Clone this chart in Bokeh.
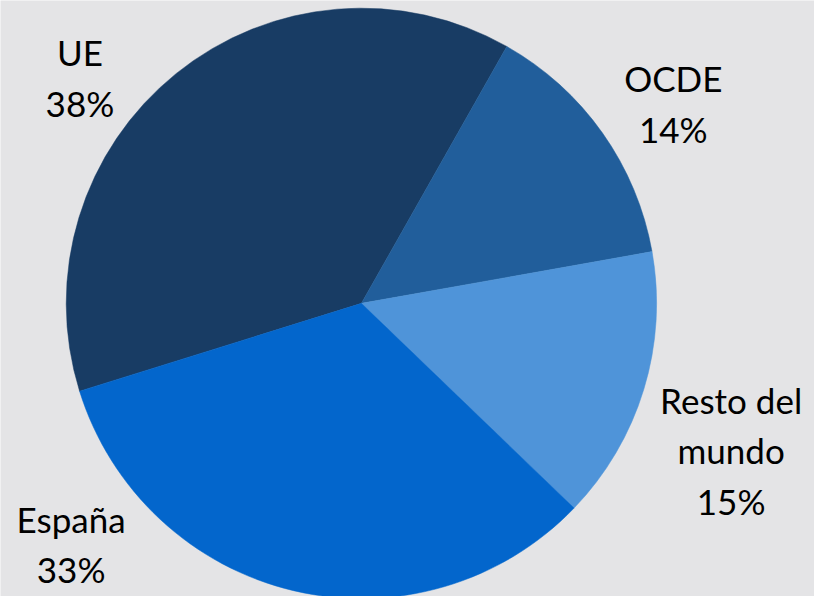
import math
from bokeh.plotting import figure
from bokeh.models import Range1d, ColumnDataSource
from bokeh.core.properties import value
from bokeh.embed import file_html
from bokeh.resources import INLINE

# ---- data ----
categories = ["UE", "OCDE", "Resto del mundo", "España"]
shares = [38, 14, 15, 33]
colors = ["#183C64", "#215E9B", "#4F94D9", "#0366CC"]
label_lines = [["UE"], ["OCDE"], ["Resto del", "mundo"], ["España"]]

# ---- layout (reference pixel space 830x612: x right, y down) ----
CX, CY, R = 368, 311, 301
FIRST_ANGLE = 252.7          # clockwise from 12 o'clock, start of first slice
label_anchor = [(81, 53), (686, 80), (745, 410), (72, 532)]  # centre x, first baseline
LINE_H = 52
FONT = "Lato"
FONT_SIZE = "35px"
BG = "#e4e4e6"

W, H = 814, 596
p = figure(width=W, height=H, x_range=Range1d(0, 830), y_range=Range1d(0, 612),
           output_backend="svg", toolbar_location=None, min_border=0)
p.axis.visible = False
p.grid.visible = False
p.outline_line_color = None
p.background_fill_color = BG
p.border_fill_color = BG

def yup(y):
    return 612 - y

total = float(sum(shares))
starts, ends = [], []
acc = FIRST_ANGLE
for s in shares:
    a0 = acc
    a1 = acc + 360.0 * s / total
    starts.append(math.radians(90 - a0))
    ends.append(math.radians(90 - a1))
    acc = a1

src = ColumnDataSource(dict(x=[CX] * len(shares), y=[yup(CY)] * len(shares),
                            start=starts, end=ends, color=colors, cat=categories))
p.wedge(x="x", y="y", radius=R, start_angle="start", end_angle="end",
        direction="clock", fill_color="color", line_color="color", line_width=0.5,
        source=src)

tx, ty, tt = [], [], []
for lines, share, (ax, ay) in zip(label_lines, shares, label_anchor):
    all_lines = lines + [f"{share}%"]
    for i, ln in enumerate(all_lines):
        tx.append(ax)
        ty.append(yup(ay + i * LINE_H))
        tt.append(ln)

p.text(x=tx, y=ty, text=tt, text_align="center", text_baseline="alphabetic",
       text_font=value(FONT), text_font_size=FONT_SIZE, text_color="#000000")

open("out.html", "w").write(file_html(p, INLINE))
